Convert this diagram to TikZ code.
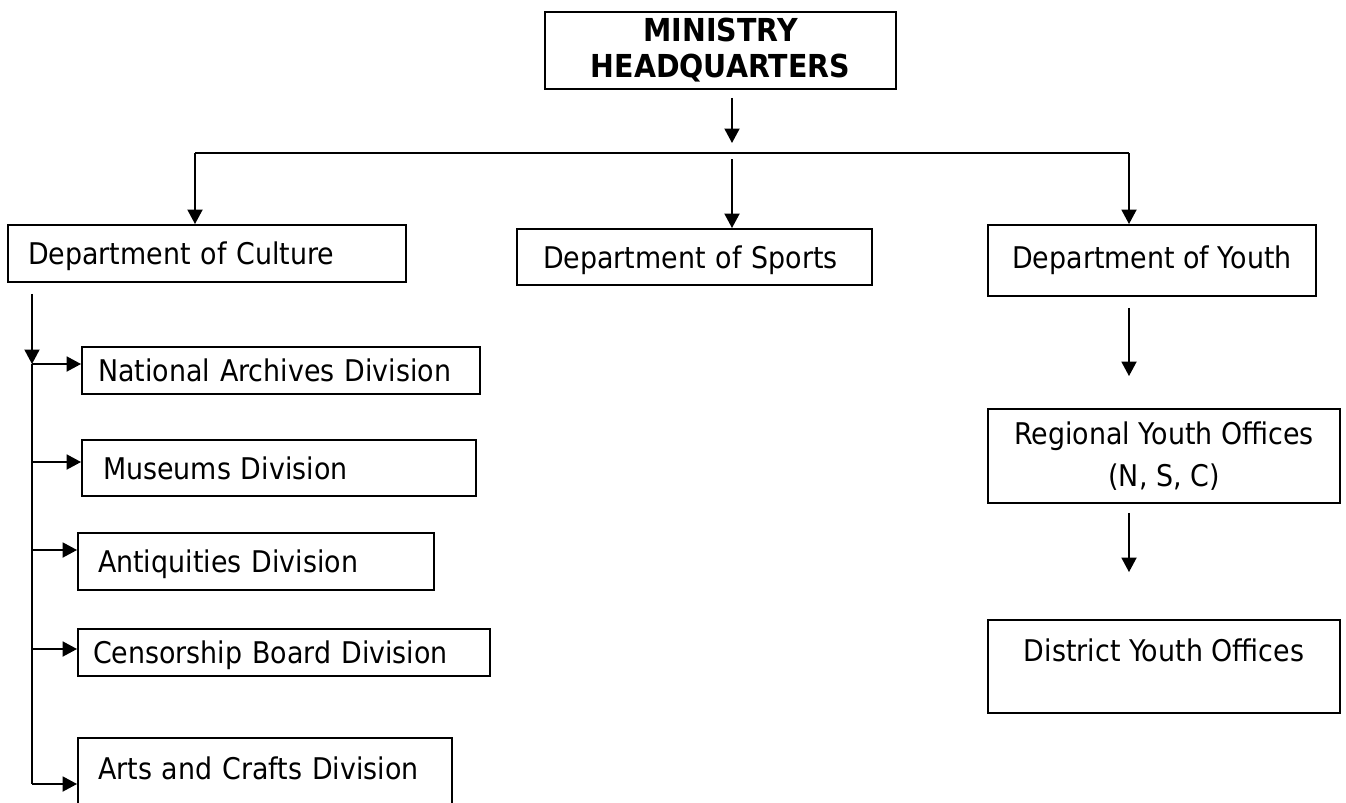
\documentclass[tikz,border=0pt]{standalone}
\usepackage{fontspec}
\setmainfont{DejaVu Sans}[FakeStretch=0.9]
\usetikzlibrary{arrows.meta}
\begin{document}
\begin{tikzpicture}[x=0.02cm, y=-0.02cm,
  every node/.style={font=\fontsize{17}{21}\selectfont},
  box/.style={draw, line width=1.1pt, inner sep=0pt},
  lbox/.style={box, align=left, text depth=0pt},
  arr/.style={line width=1.1pt, -{Triangle[length=0.29cm, width=0.3cm]}}]
  \useasboundingbox (0,0) rectangle (1346,802);
  \clip (0,0) rectangle (1346,802);
  % top level
  \node[box, align=center, minimum width=7.02cm, minimum height=1.54cm, font=\fontsize{18}{20.5}\selectfont\bfseries] (hq) at (720.5,50.5) {MINISTRY\\HEADQUARTERS};
  \node[lbox, text width=7.16cm, inner xsep=0.4cm, minimum height=1.14cm] (culture) at (207,253.5) {Department of Culture};
  \node[lbox, text width=6.06cm, inner xsep=0.52cm, minimum height=1.12cm] (sports) at (694.5,257) {Department of Sports};
  \node[box, minimum width=6.56cm, minimum height=1.42cm] (youth) at (1152,260.5) {Department of Youth};
  % youth column
  \node[box, align=center, minimum width=7.04cm, minimum height=1.88cm, font=\fontsize{17}{24}\selectfont] (regional) at (1164,456) {Regional Youth Offices\\(N, S, C)};
  \node[box, minimum width=7.04cm, minimum height=1.86cm, text depth=0.64cm] (district) at (1164,666.5) {District Youth Offices};
  % culture divisions
  \node[lbox, text width=7.32cm, inner xsep=0.32cm, minimum height=0.94cm] (national) at (281,370.5) {National Archives Division};
  \node[lbox, text width=7.04cm, inner xsep=0.42cm, minimum height=1.12cm] (museums) at (279,468) {Museums Division};
  \node[lbox, text width=6.32cm, inner xsep=0.4cm, minimum height=1.14cm] (antiquities) at (256,561.5) {Antiquities Division};
  \node[lbox, text width=7.64cm, inner xsep=0.3cm, minimum height=0.94cm] (censorship) at (284,652.5) {Censorship Board Division};
  \node[lbox, anchor=north, text width=6.68cm, inner xsep=0.4cm, inner ysep=0pt, text height=0.84cm, text depth=1.0cm] (arts) at (265,737) {Arts and Crafts Division};

  \coordinate (busL) at (195,153);
  \coordinate (busM) at (732,153);
  \coordinate (busR) at (1129,153);
  \coordinate (trunk) at (32,364);
  \coordinate (trunkEnd) at (32,784);

  \draw[arr, shorten <=0.16cm, shorten >=0.2cm] (hq.south -| busM) -- (busM);
  \draw[line width=1.1pt] (busL) -- (busR);
  \draw[arr] (busL) -- (busL |- culture.north);
  \draw[arr, shorten <=0.12cm] (busM) -- (busM |- sports.north);
  \draw[arr] (busR) -- (busR |- youth.north);
  \draw[arr, shorten <=0.22cm, shorten >=0.64cm] (youth.south -| busR) -- (regional.north -| busR);
  \draw[arr, shorten <=0.18cm, shorten >=0.94cm] (regional.south -| busR) -- (district.north -| busR);
  % trunk with branches
  \draw[arr, shorten <=0.22cm] (culture.south -| trunk) -- (trunk);
  \draw[line width=1.1pt] (trunk) -- (trunkEnd);
  \foreach \n/\y in {national/364, museums/462, antiquities/550, censorship/649, arts/784} {
    \draw[arr] (32,\y) -- (\n.west |- 0,\y);
  }
\end{tikzpicture}
\end{document}
